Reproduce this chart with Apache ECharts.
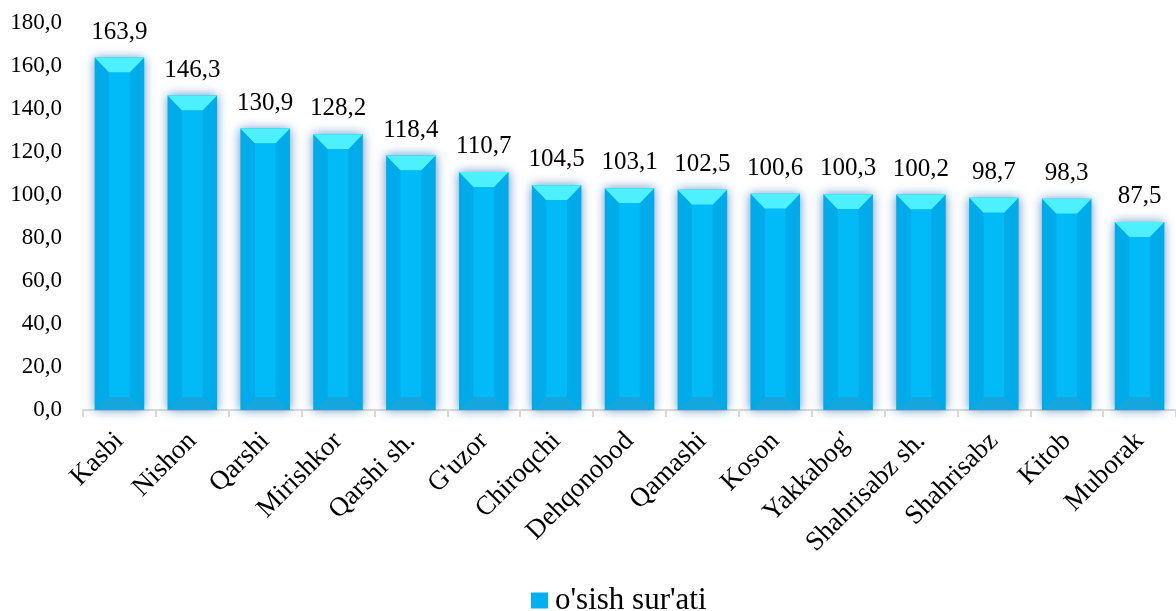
<!DOCTYPE html>
<html>
<head>
<meta charset="utf-8">
<script src="https://cdn.jsdelivr.net/npm/echarts@6/dist/echarts.min.js"></script>
<style>html,body{margin:0;padding:0;background:#fff;}#c{width:1176px;height:611px;}</style>
</head>
<body>
<div id="c"></div>
<script>
const categories = ["Kasbi","Nishon","Qarshi","Mirishkor","Qarshi sh.","G'uzor","Chiroqchi","Dehqonobod","Qamashi","Koson","Yakkabog'","Shahrisabz sh.","Shahrisabz","Kitob","Muborak"];
const values = [163.9,146.3,130.9,128.2,118.4,110.7,104.5,103.1,102.5,100.6,100.3,100.2,98.7,98.3,87.5];
const seriesName = "o'sish sur'ati";
const yTicks = { min: 0, max: 180, interval: 20 };

const FONT = "'Liberation Serif','Times New Roman',serif";
const fmt = v => Number(v).toFixed(1).replace('.', ',');

const chart = echarts.init(document.getElementById('c'));
chart.setOption({
  animation: false,
  backgroundColor: '#ffffff',
  grid: { left: 83, right: -8, top: 23, bottom: 201, containLabel: false },
  xAxis: {
    type: 'category',
    data: categories,
    boundaryGap: true,
    axisLine: { show: true, lineStyle: { color: '#d9d9d9', width: 2 } },
    axisTick: { show: true, length: 7, lineStyle: { color: '#d9d9d9', width: 2 } },
    axisLabel: { rotate: 45, margin: 27, interval: 0, color: '#000', fontFamily: FONT, fontSize: 27 }
  },
  yAxis: {
    type: 'value',
    min: yTicks.min, max: yTicks.max, interval: yTicks.interval,
    axisLine: { show: false },
    axisTick: { show: false },
    splitLine: { show: false },
    axisLabel: { margin: 21, color: '#000', fontFamily: FONT, fontSize: 23, formatter: fmt }
  },
  legend: {
    top: 585,
    left: 531,
    padding: 0,
    icon: 'rect',
    itemWidth: 17,
    itemHeight: 16,
    itemGap: 7,
    textStyle: { color: '#000', fontFamily: FONT, fontSize: 31, lineHeight: 31, padding: [0, 0, 0, 2] },
    data: [seriesName]
  },
  series: [{
    name: seriesName,
    type: 'custom',
    itemStyle: { color: '#00B0F0' },
    data: values.map((v, i) => [i, v]),
    encode: { x: 0, y: 1 },
    renderItem: function (params, api) {
      const idx = api.value(0), v = api.value(1);
      const top = api.coord([idx, v]);
      const base = api.coord([idx, 0]);
      const bw = api.size([1, 0])[0] * 0.68;
      const l = top[0] - bw / 2, r = top[0] + bw / 2, t = top[1], b = base[1];
      const s = 14.5, tb = 15, bb = 13;
      return {
        type: 'group',
        children: [
          { type: 'rect', shape: { x: l, y: t, width: r - l, height: b - t },
            style: { fill: '#00ABEA', shadowBlur: 10, shadowColor: 'rgba(60,120,185,0.8)' } },
          { type: 'polygon', shape: { points: [[l, t], [r, t], [r - s, t + tb], [l + s, t + tb]] },
            style: { fill: '#4DF0FF' } },
          { type: 'polygon', shape: { points: [[l, b], [r, b], [r - s, b - bb], [l + s, b - bb]] },
            style: { fill: '#14A6DC' } },
          { type: 'rect', shape: { x: l + s, y: t + tb, width: r - l - 2 * s, height: b - bb - t - tb },
            style: { fill: '#00BBF8' } },
          { type: 'text', style: { text: fmt(v), x: top[0], y: t - 13, align: 'center', verticalAlign: 'bottom',
            fontFamily: FONT, fontSize: 25, fill: '#000' } }
        ]
      };
    }
  }]
});
</script>
</body>
</html>
